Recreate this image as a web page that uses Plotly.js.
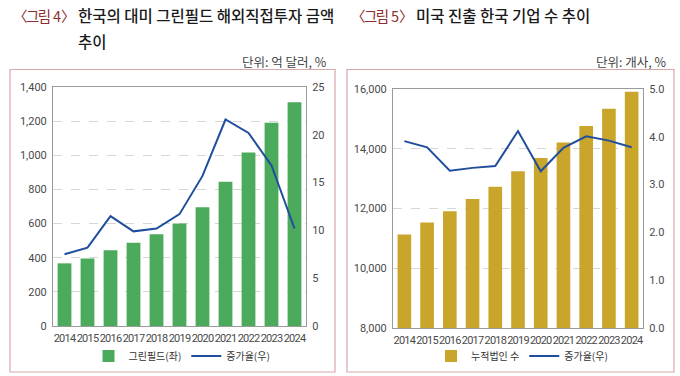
<!DOCTYPE html>
<html>
<head>
<meta charset="utf-8">
<script src="https://cdn.plot.ly/plotly-3.0.1.min.js"></script>
<style>
html,body{margin:0;padding:0;background:#fff;}
#chart{width:680px;height:376px;}
#chart .xtick text, #chart .x2tick text {letter-spacing:-0.8px;}
</style>
</head>
<body>
<div id="chart"></div>
<script>
const years = ['2014','2015','2016','2017','2018','2019','2020','2021','2022','2023','2024'];
// Figure 4: greenfield FDI to US (100 million USD) and growth rate (%)
const greenfield = [367, 396, 443, 488, 537, 601, 695, 845, 1017, 1191, 1310];
const greenfieldGrowth = [7.5, 8.2, 11.5, 9.9, 10.2, 11.7, 15.7, 21.6, 20.2, 16.8, 10.2];
// Figure 5: cumulative number of Korean firms in US and growth rate (%)
const firms = [11130, 11530, 11910, 12320, 12725, 13250, 13690, 14210, 14760, 15340, 15910];
const firmsGrowth = [3.91, 3.78, 3.29, 3.35, 3.39, 4.12, 3.28, 3.77, 4.01, 3.92, 3.78];

const leftTicks = [0, 200, 400, 600, 800, 1000, 1200, 1400];
const rightTicksL = [8000, 10000, 12000, 14000, 16000];

const KR = '"Noto Sans CJK KR", "Noto Sans", sans-serif';
const TICKF = {family: 'Roboto, "Noto Sans", sans-serif', size: 11, color: '#4a4a4a'};
const GREEN = '#4caa5c', GOLD = '#c9a52c', BLUE = '#1f4e9c';
const FRAME = '#d8a9ab', AXIS = '#9a9a9a', GRID = '#d6d6d6';

const px = x => x / 680;
const py = y => 1 - y / 376;

const traces = [
  {type: 'bar', x: years, y: greenfield, name: '그린필드(좌)', marker: {color: GREEN},
   width: 0.6, xaxis: 'x', yaxis: 'y', legend: 'legend'},
  {type: 'scatter', mode: 'lines', x: years, y: greenfieldGrowth, name: '증가율(우)',
   line: {color: BLUE, width: 2}, xaxis: 'x', yaxis: 'y2', legend: 'legend'},
  {type: 'bar', x: years, y: firms, name: '누적법인 수', marker: {color: GOLD},
   width: 0.6, xaxis: 'x2', yaxis: 'y3', legend: 'legend2'},
  {type: 'scatter', mode: 'lines', x: years, y: firmsGrowth, name: '증가율(우)',
   line: {color: BLUE, width: 2}, xaxis: 'x2', yaxis: 'y4', legend: 'legend2'}
];

const yDomL = [py(326), py(87)];
const yDomR = [py(328), py(89)];

function xAx(dom, anchor) {
  return {domain: dom, anchor: anchor, type: 'category', showline: true, linecolor: AXIS, linewidth: 1,
    mirror: true, showgrid: false, ticks: '', tickangle: 0, tickfont: TICKF, fixedrange: true,
    ticklabelstandoff: 2};
}
function yAx(dom, anchor, range, dtick, fmt, grid) {
  return {domain: dom, anchor: anchor, range: range, dtick: dtick, tickformat: fmt,
    showline: true, linecolor: AXIS, linewidth: 1, showgrid: grid, gridcolor: GRID, griddash: 'dash',
    gridwidth: 1, zeroline: false, ticks: '', tickfont: TICKF, ticklabelstandoff: 3};
}

const LEGF = {family: KR, size: 10, color: '#333'};
const RED = '#8c2f30';
function figLabel(n) {
  const base = 'color:' + RED + ';font-weight:400;font-size:14.5px;';
  return '<span style="' + base + 'letter-spacing:-1.5px">〈그림</span>' +
         '<span style="' + base + '"> ' + n + '</span>' +
         '<span style="' + base + 'letter-spacing:-1px">〉</span> ';
}

const layout = {
  width: 680, height: 376,
  margin: {l: 0, r: 0, t: 0, b: 0},
  paper_bgcolor: '#fff', plot_bgcolor: '#fff',
  showlegend: true,
  bargap: 0.4,
  xaxis: xAx([px(53), px(306)], 'y'),
  yaxis: Object.assign(yAx(yDomL, 'x', [0, 1400], 200, ',', true), {tickvals: leftTicks, ticktext: leftTicks.map(v => v.toLocaleString('en-US'))}),
  yaxis2: Object.assign(yAx(yDomL, 'x', [0, 25], 5, 'd', false), {overlaying: 'y', side: 'right'}),
  xaxis2: xAx([px(393), px(643)], 'y3'),
  yaxis3: Object.assign(yAx(yDomR, 'x2', [8000, 16000], 2000, ',', true), {tickvals: rightTicksL, ticktext: rightTicksL.map(v => v.toLocaleString('en-US'))}),
  yaxis4: Object.assign(yAx(yDomR, 'x2', [0, 5], 1, '.1f', false), {overlaying: 'y3', side: 'right'}),
  legend: {orientation: 'h', x: px(182), xanchor: 'center', y: py(356), yanchor: 'middle',
    font: LEGF, bgcolor: 'rgba(0,0,0,0)', itemwidth: 30, traceorder: 'normal'},
  legend2: {orientation: 'h', x: px(522), xanchor: 'center', y: py(356), yanchor: 'middle',
    font: LEGF, bgcolor: 'rgba(0,0,0,0)', itemwidth: 30, traceorder: 'normal'},
  shapes: [
    {type: 'rect', xref: 'paper', yref: 'paper', x0: px(10), x1: px(335), y0: py(372), y1: py(69.5),
     line: {color: FRAME, width: 1.2}, fillcolor: 'rgba(0,0,0,0)'},
    {type: 'rect', xref: 'paper', yref: 'paper', x0: px(347), x1: px(674), y0: py(372), y1: py(69.5),
     line: {color: FRAME, width: 1.2}, fillcolor: 'rgba(0,0,0,0)'}
  ],
  annotations: [
    {xref: 'paper', yref: 'paper', x: px(11), y: py(15), xanchor: 'left', yanchor: 'middle', showarrow: false,
     text: figLabel(4) + '한국의 대미 그린필드 해외직접투자 금액',
     font: {family: KR, size: 15.5, color: '#1a1a1a', weight: 500}},
    {xref: 'paper', yref: 'paper', x: px(76), y: py(41), xanchor: 'left', yanchor: 'middle', showarrow: false,
     text: '추이', font: {family: KR, size: 15.5, color: '#1a1a1a', weight: 500}},
    {xref: 'paper', yref: 'paper', x: px(329), y: py(61), xanchor: 'right', yanchor: 'middle', showarrow: false,
     text: '단위: 억 달러, %', font: {family: KR, size: 12.5, color: '#444'}},
    {xref: 'paper', yref: 'paper', x: px(349), y: py(15), xanchor: 'left', yanchor: 'middle', showarrow: false,
     text: figLabel(5) + '미국 진출 한국 기업 수 추이',
     font: {family: KR, size: 15.5, color: '#1a1a1a', weight: 500}},
    {xref: 'paper', yref: 'paper', x: px(669), y: py(61), xanchor: 'right', yanchor: 'middle', showarrow: false,
     text: '단위: 개사, %', font: {family: KR, size: 12.5, color: '#444'}}
  ]
};

Plotly.newPlot('chart', traces, layout, {staticPlot: true, displayModeBar: false});
</script>
</body>
</html>
